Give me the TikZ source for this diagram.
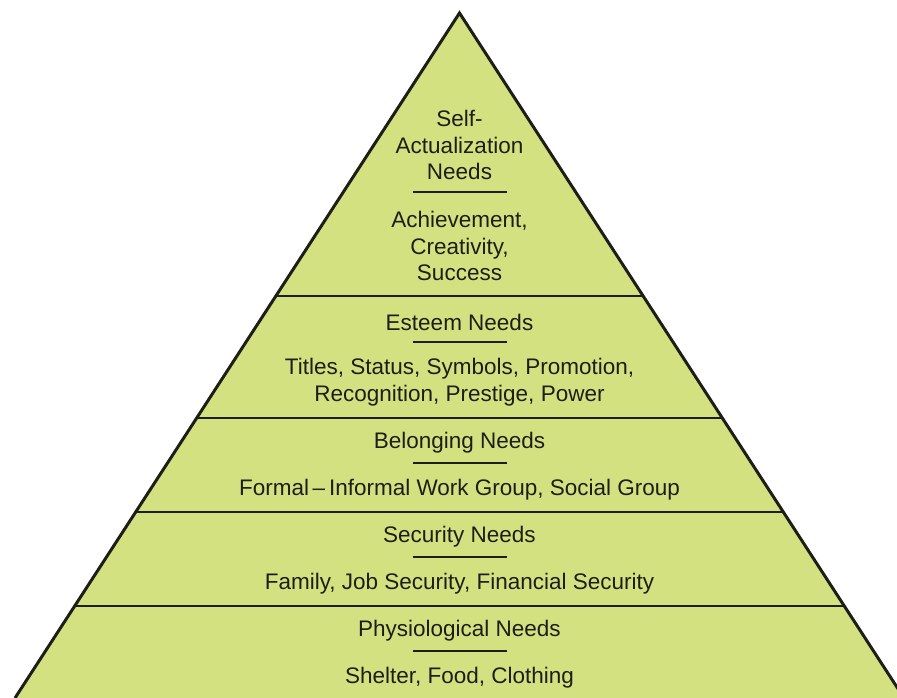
\documentclass[tikz,border=0pt]{standalone}
\usepackage{fontspec}
\setmainfont{Liberation Sans}
\definecolor{pyrfill}{RGB}{212,225,128}
\definecolor{ink}{RGB}{30,30,25}
\begin{document}
\begin{tikzpicture}[x=1pt,y=-1pt,
  lbl/.style={text=ink,align=center,inner sep=0pt,font=\fontsize{22.5}{26.5}\selectfont},
  sep/.style={draw=ink,line width=2pt},
  tier/.style={draw=ink,line width=2.2pt},
  edge/.style={draw=ink,line width=3pt,line join=miter}]
\useasboundingbox (0,0) rectangle (897,698);
\clip (0,0) rectangle (897,698);
\coordinate (apex) at (459.5,13);
\coordinate (bl) at (15,698);
\coordinate (br) at (904,698);
\fill[pyrfill] (bl) -- (apex) -- (br) -- cycle;
% tier dividers
\coordinate (l1) at (276.4,296); \coordinate (r1) at (642.6,296);
\coordinate (l2) at (197.5,418); \coordinate (r2) at (721.5,418);
\coordinate (l3) at (136.6,512); \coordinate (r3) at (782.4,512);
\coordinate (l4) at (75.8,606);  \coordinate (r4) at (843.2,606);
\draw[tier] (l1) -- (r1);
\draw[tier] (l2) -- (r2);
\draw[tier] (l3) -- (r3);
\draw[tier] (l4) -- (r4);
\draw[edge] (bl) -- (apex) -- (br);
% texts
\node[lbl] (t1) at (459.5,145) {Self-\\Actualization\\Needs};
\node[lbl] (d1) at (459.5,246) {Achievement,\\Creativity,\\Success};
\node[lbl] (t2) at (459.5,322) {Esteem Needs};
\node[lbl] (d2) at (459.5,382) {Titles, Status, Symbols, Promotion,\\Recognition, Prestige, Power};
\node[lbl] (t3) at (459.5,443) {Belonging Needs};
\node[lbl] (d3) at (459.5,490) {Formal\,–\,Informal Work Group, Social Group};
\node[lbl] (t4) at (459.5,537) {Security Needs};
\node[lbl] (d4) at (459.5,584) {Family, Job Security, Financial Security};
\node[lbl] (t5) at (459.5,631) {Physiological Needs};
\node[lbl] (d5) at (459.5,678) {Shelter, Food, Clothing};
% separators
\coordinate (s1a) at (413,192); \coordinate (s1b) at (507,192);
\coordinate (s2a) at (413,342); \coordinate (s2b) at (507,342);
\coordinate (s3a) at (413,463); \coordinate (s3b) at (507,463);
\coordinate (s4a) at (413,557); \coordinate (s4b) at (507,557);
\coordinate (s5a) at (413,651); \coordinate (s5b) at (507,651);
\draw[sep] (s1a) -- (s1b);
\draw[sep] (s2a) -- (s2b);
\draw[sep] (s3a) -- (s3b);
\draw[sep] (s4a) -- (s4b);
\draw[sep] (s5a) -- (s5b);
\end{tikzpicture}
\end{document}
